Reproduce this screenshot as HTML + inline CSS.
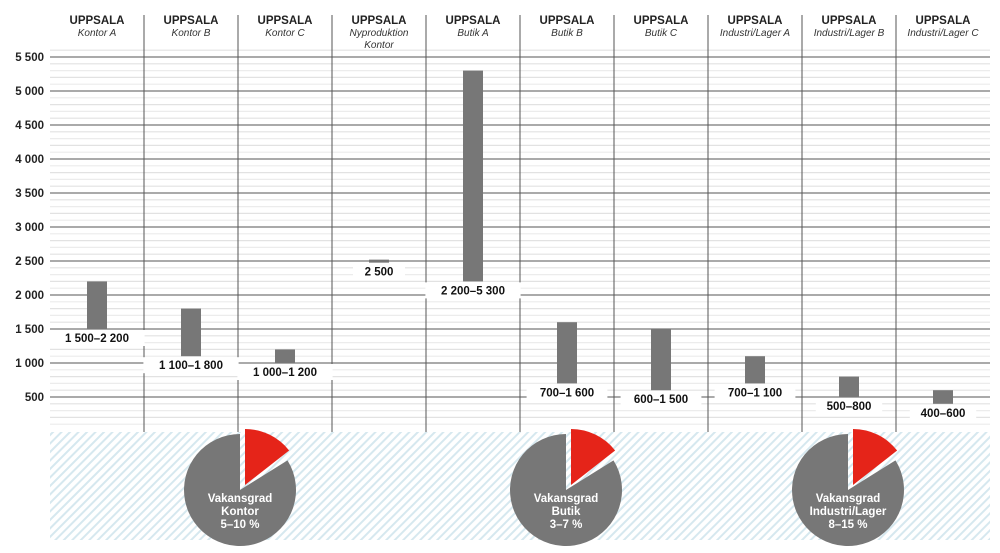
<!DOCTYPE html>
<html><head><meta charset="utf-8"><style>
html,body{margin:0;padding:0;background:#fff}
svg{display:block}
text{font-family:"Liberation Sans",sans-serif}
</style></head><body>
<svg width="1000" height="553" viewBox="0 0 1000 553" xmlns="http://www.w3.org/2000/svg">
<defs>
<pattern id="h" width="6" height="6" patternUnits="userSpaceOnUse" patternTransform="rotate(45)">
<rect width="6" height="6" fill="#fff"/><rect width="2" height="6" fill="#d6e8ef"/>
</pattern>
</defs>
<rect x="50" y="432" width="940" height="108" fill="url(#h)"/>
<g id="grid"></g>
<g id="fg"></g>
<script>
const ns="http://www.w3.org/2000/svg";
const g=document.getElementById('grid'),f=document.getElementById('fg');
function el(p,t,a,txt){const e=document.createElementNS(ns,t);for(const k in a)e.setAttribute(k,a[k]);if(txt!==undefined)e.textContent=txt;p.appendChild(e);return e;}
const Y=v=>91+(5000-v)*0.068;
for(let v=100;v<=5600;v+=100){ if(v%500===0) continue; const y=Y(v); if(y<50)continue; el(g,'line',{x1:50,x2:990,y1:y,y2:y,stroke:(v%200===0)?'#e2e2e2':'#ececec','stroke-width':1.2});}
for(let v=500;v<=5500;v+=500){const y=Y(v);el(g,'line',{x1:50,x2:990,y1:y,y2:y,stroke:'#555','stroke-width':1});
el(g,'text',{x:44,y:y+4,'text-anchor':'end','font-size':11.5,fill:'#222','font-weight':'bold'},v>=1000?(Math.floor(v/1000)+' '+String(v%1000).padStart(3,'0')):String(v));}
for(let i=1;i<10;i++){const x=50+i*94;el(g,'line',{x1:x,x2:x,y1:15,y2:432,stroke:'#555','stroke-width':1});}
const cols=[["Kontor A",1500,2200,"1 500–2 200"],["Kontor B",1100,1800,"1 100–1 800"],["Kontor C",1000,1200,"1 000–1 200"],["Nyproduktion|Kontor",2500,2520,"2 500"],["Butik A",2200,5300,"2 200–5 300"],["Butik B",700,1600,"700–1 600"],["Butik C",600,1500,"600–1 500"],["Industri/Lager A",700,1100,"700–1 100"],["Industri/Lager B",500,800,"500–800"],["Industri/Lager C",400,600,"400–600"]];
cols.forEach((c,i)=>{const cx=50+i*94+47;
el(f,'text',{x:cx,y:24,'text-anchor':'middle','font-size':11.5,'font-weight':'bold',fill:'#222'},'UPPSALA');
c[0].split('|').forEach((s,j)=>el(f,'text',{x:cx,y:36+j*12,'text-anchor':'middle','font-size':10,'font-style':'italic',fill:'#333'},s));
const y1=Y(c[2]),y2=Y(c[1]);el(f,'rect',{x:cx-10,y:y1,width:20,height:Math.max(3,y2-y1),fill:'#777'});
const w=c[3].length*7.2+16;const by=Math.max(y2,y1+3);
el(f,'rect',{x:cx-w/2,y:by+1,width:w,height:16,fill:'#fff'});
el(f,'text',{x:cx,y:by+13,'text-anchor':'middle','font-size':11.5,'font-weight':'bold',fill:'#111'},c[3]);});
function pt(cx,cy,r,a){a=a*Math.PI/180;return [cx+r*Math.sin(a),cy-r*Math.cos(a)];}
function wedge(cx,cy,r,a0,a1,fill){const p0=pt(cx,cy,r,a0),p1=pt(cx,cy,r,a1);const large=(a1-a0)>180?1:0;
el(f,'path',{d:`M${cx},${cy} L${p0[0]},${p0[1]} A${r},${r} 0 ${large} 1 ${p1[0]},${p1[1]} Z`,fill});}
[[240,"Kontor","5–10 %"],[566,"Butik","3–7 %"],[848,"Industri/Lager","8–15 %"]].forEach(p=>{const cx=p[0],cy=490;
wedge(cx,cy,56,58,360,'#777');wedge(cx+5,cy-5,56,0,52,'#e52419');
['Vakansgrad',p[1],p[2]].forEach((s,j)=>el(f,'text',{x:cx,y:cy+12+j*13,'text-anchor':'middle','font-size':11.5,'font-weight':'bold',fill:'#fff'},s));});
</script>
</svg>
</body></html>
